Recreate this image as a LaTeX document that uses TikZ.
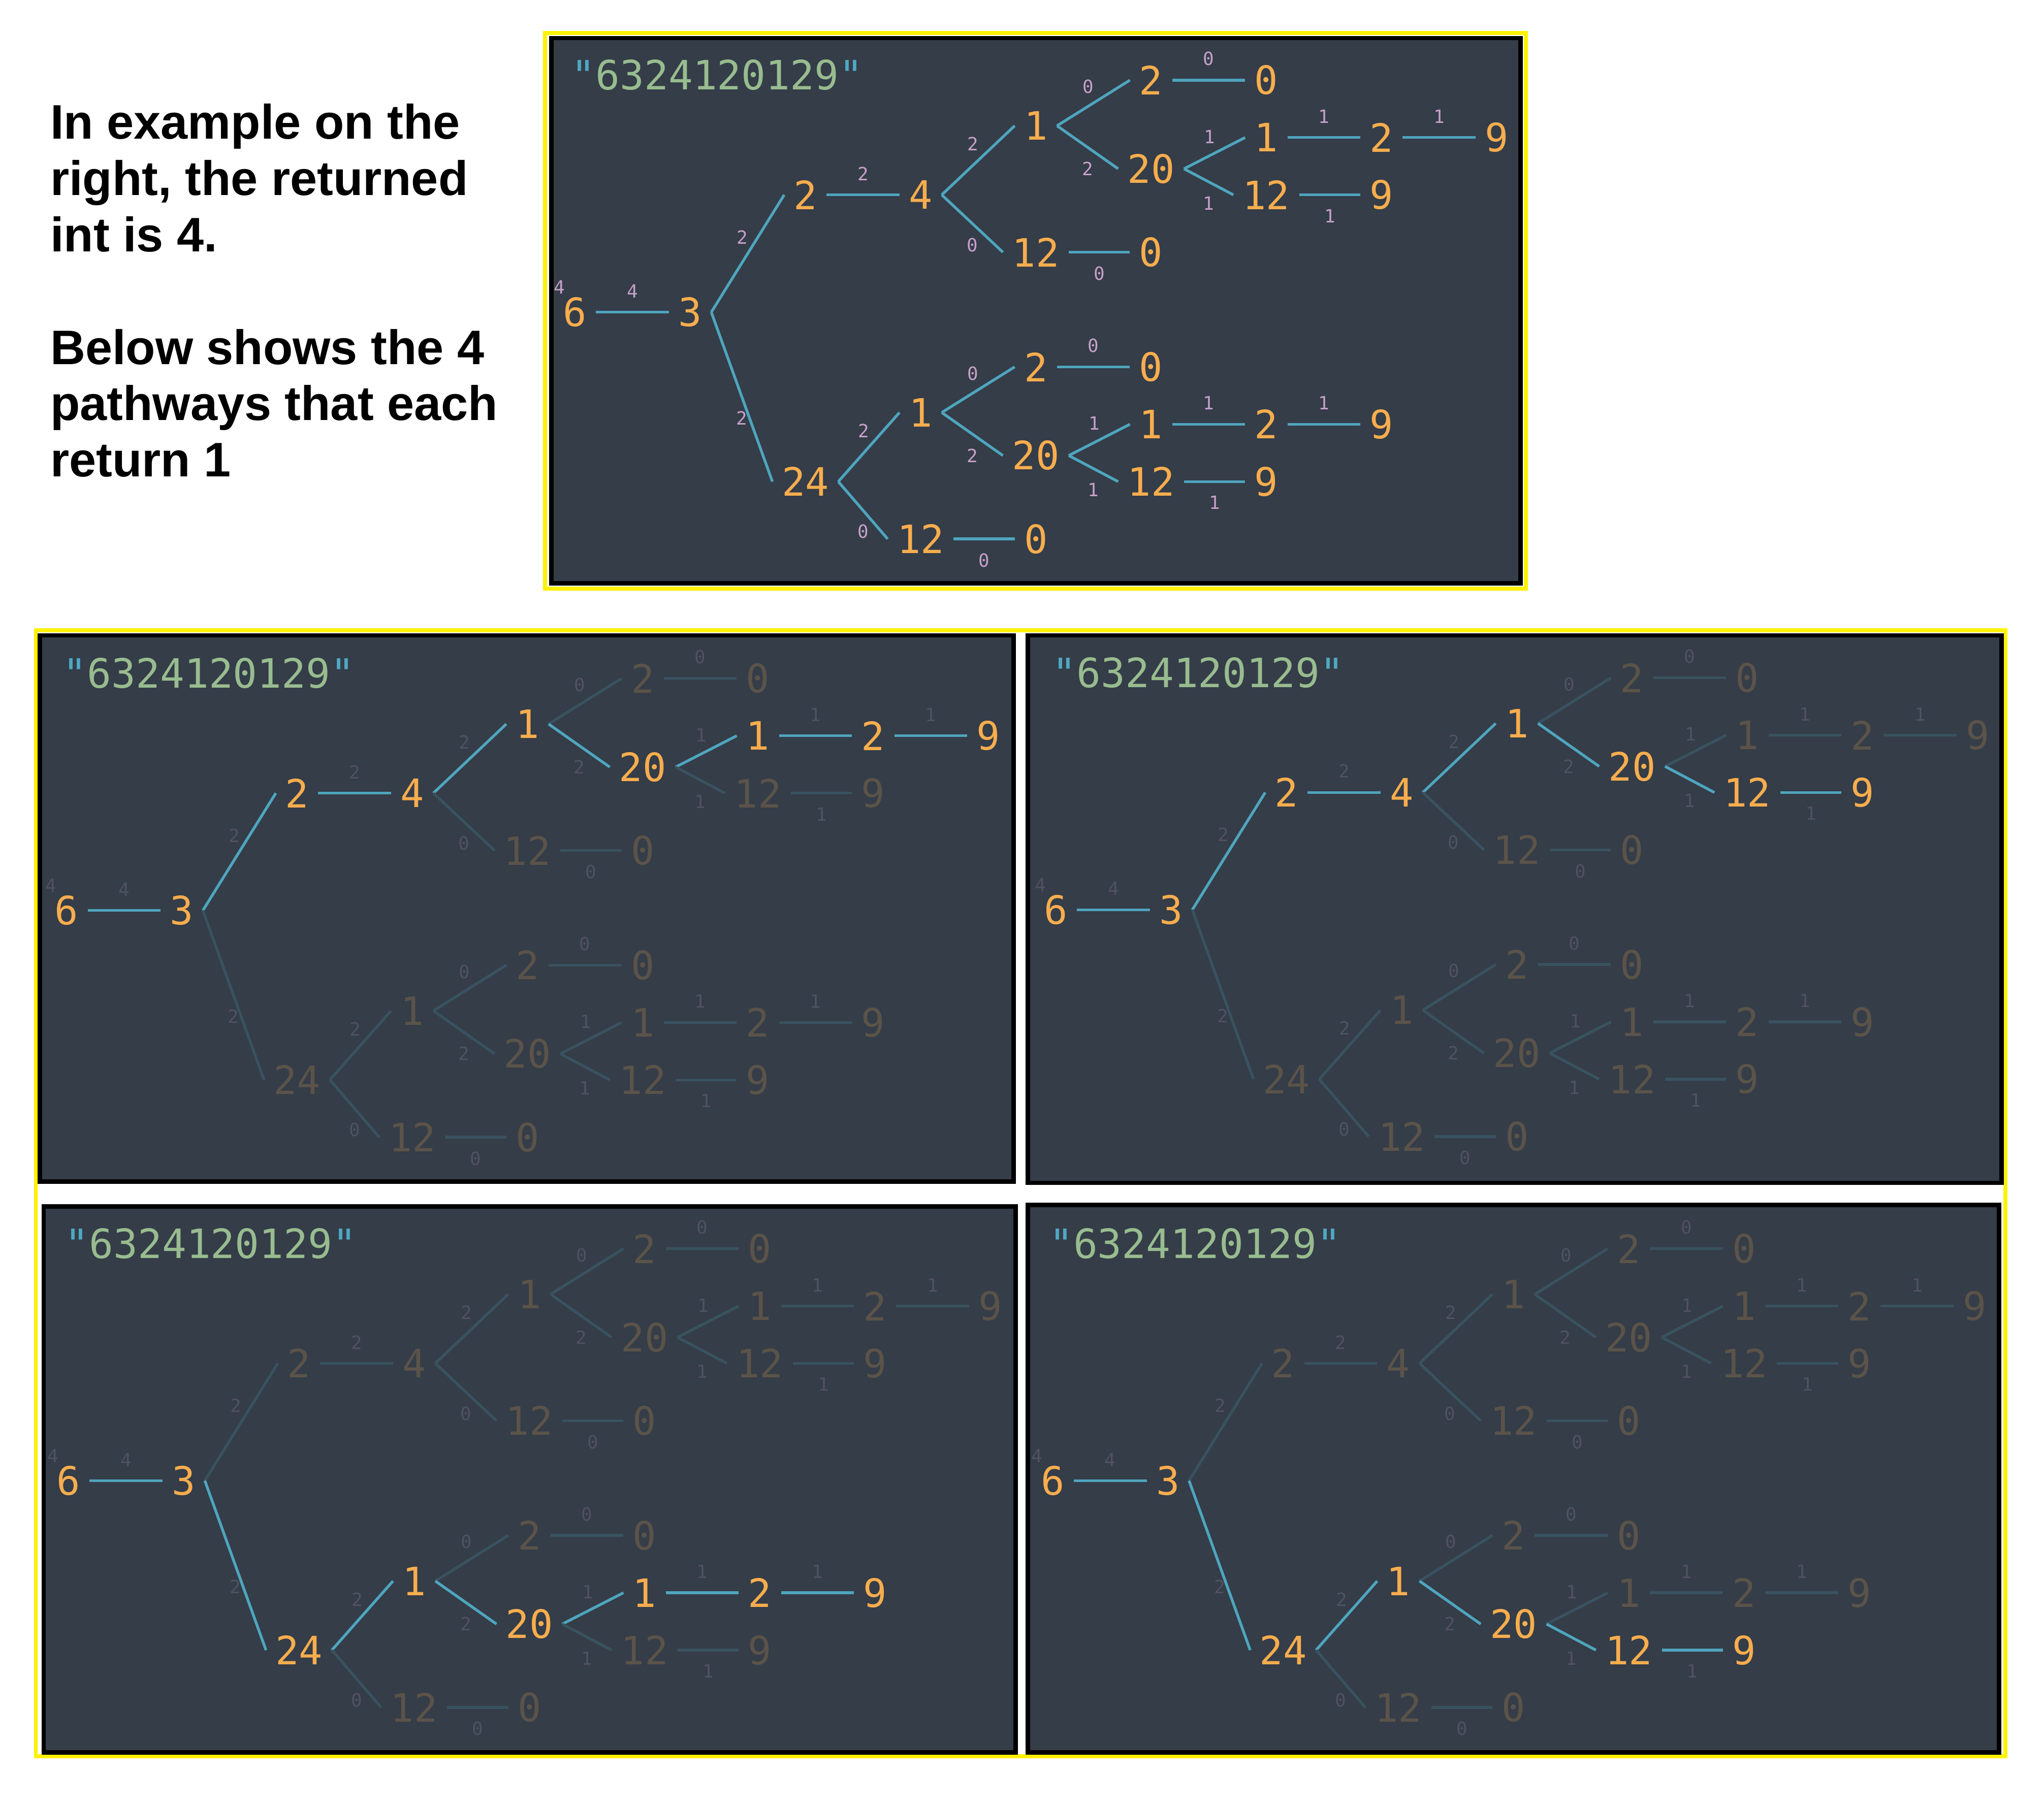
\documentclass[tikz,border=0pt]{standalone}
\usepackage{fontspec}
\newfontfamily\monofont{DejaVu Sans Mono}
\newfontfamily\headfont{Liberation Sans}
\definecolor{panelbg}{HTML}{343D48}
\definecolor{numc}{HTML}{F8AD4E}
\definecolor{linec}{HTML}{4FA5BE}
\definecolor{lblc}{HTML}{C7A0C9}
\definecolor{strc}{HTML}{98BC8F}
\definecolor{quotec}{HTML}{4FA8C2}
\definecolor{framec}{HTML}{FFF200}
\colorlet{numdim}{numc!20!panelbg}
\colorlet{linedim}{linec!20!panelbg}
\colorlet{lbldim}{lblc!20!panelbg}
\tikzset{
  num/.style={font=\monofont\fontsize{30}{30}\selectfont, text=numc, inner xsep=7pt, inner ysep=0pt},
  link/.style={draw=linec, line width=2.1pt},
  lbl/.style={font=\monofont\fontsize{14}{14}\selectfont, text=lblc, inner sep=0pt},
  lhu/.style={lbl, midway, above=10pt},
  lhd/.style={lbl, midway, below=10pt},
  lup/.style={lbl, midway, xshift=-4pt, yshift=12.6pt},
  ldn/.style={lbl, midway, yshift=-16.4pt},
  title/.style={font=\monofont\fontsize{31}{31}\selectfont, text=strc, inner sep=0pt},
  panel/.style={fill=panelbg, draw=black, line width=3.4pt},
  yframe/.style={draw=framec, line width=3pt},
  faded/.style={num/.append style={text=numdim}, link/.append style={draw=linedim}, lbl/.append style={text=lbldim}},
  lit/.style={sel-#1/.style={text=numc}, sel-#1-e/.style={draw=linec}}
}
% one branch: #1 its root, #2 prefix of its node names
\newcommand\branch[2]{%
  \node[num, sel-#2a/.try] (#2a) at ([shift={(88.4,-53)}]#1) {1};
  \node[num, sel-#2b/.try] (#2b) at ([shift={(88.4,44)}]#1) {12};
  \node[num, sel-#2c/.try] (#2c) at ([shift={(176.8,44)}]#1) {0};
  \node[num, sel-#2d/.try] (#2d) at ([shift={(176.8,-88)}]#1) {2};
  \node[num, sel-#2e/.try] (#2e) at ([shift={(265.2,-88)}]#1) {0};
  \node[num, sel-#2f/.try] (#2f) at ([shift={(176.8,-20)}]#1) {20};
  \node[num, sel-#2g/.try] (#2g) at ([shift={(265.2,-44)}]#1) {1};
  \node[num, sel-#2h/.try] (#2h) at ([shift={(353.6,-44)}]#1) {2};
  \node[num, sel-#2i/.try] (#2i) at ([shift={(442,-44)}]#1) {9};
  \node[num, sel-#2j/.try] (#2j) at ([shift={(265.2,0)}]#1) {12};
  \node[num, sel-#2k/.try] (#2k) at ([shift={(353.6,0)}]#1) {9};
  \draw[link, sel-#2a-e/.try] (#1.east) -- node[lup] {2} (#2a.west);
  \draw[link, sel-#2b-e/.try] (#1.east) -- node[ldn] {0} (#2b.west);
  \draw[link, sel-#2c-e/.try] (#2b.east) -- node[lhd] {0} (#2c.west);
  \draw[link, sel-#2d-e/.try] (#2a.east) -- node[lup] {0} (#2d.west);
  \draw[link, sel-#2e-e/.try] (#2d.east) -- node[lhu] {0} (#2e.west);
  \draw[link, sel-#2f-e/.try] (#2a.east) -- node[ldn] {2} (#2f.west);
  \draw[link, sel-#2g-e/.try] (#2f.east) -- node[lup] {1} (#2g.west);
  \draw[link, sel-#2h-e/.try] (#2g.east) -- node[lhu] {1} (#2h.west);
  \draw[link, sel-#2i-e/.try] (#2h.east) -- node[lhu] {1} (#2i.west);
  \draw[link, sel-#2j-e/.try] (#2f.east) -- node[ldn] {1} (#2j.west);
  \draw[link, sel-#2k-e/.try] (#2j.east) -- node[lhd] {1} (#2k.west);
}
% whole tree, origin at the first digit
\newcommand\tree{%
  \node[title, anchor=west] (ttl) at (-3,-182) {\textcolor{quotec}{"}6324120129\textcolor{quotec}{"}};
  \node[num, sel-r/.try] (r) at (0,0) {6};
  \node[lbl] (rl) at (-12,-19) {4};
  \node[num, sel-a/.try] (a) at (88.4,0) {3};
  \node[num, sel-b/.try] (b) at (176.8,-90) {2};
  \node[num, sel-c/.try] (c) at (265.2,-90) {4};
  \node[num, sel-p/.try] (p) at (176.8,130) {24};
  \draw[link, sel-a-e/.try] (r.east) -- node[lhu] {4} (a.west);
  \draw[link, sel-b-e/.try] (a.east) -- node[lup] {2} (b.west);
  \draw[link, sel-c-e/.try] (b.east) -- node[lhu] {2} (c.west);
  \draw[link, sel-p-e/.try] (a.east) -- node[ldn] {2} (p.west);
  \branch{c}{u}
  \branch{p}{l}
}
\begin{document}
\begin{tikzpicture}[x=1pt, y=-1pt]
\useasboundingbox (0,0) rectangle (1568,1384);
\fill[white] (0,0) rectangle (1568,1384);

\node[anchor=base west, align=left, inner sep=0pt,
  font=\headfont\bfseries\fontsize{37.2}{43.2}\selectfont] (intro) at (38.5,365.8)
  {In example on the\\right, the returned\\int is 4.\\[43.2pt]Below shows the 4\\pathways that each\\return 1};

% the example
\draw[yframe] (418,25.4) rectangle (1170.5,451.5);
\draw[panel] (423,29.2) rectangle (1166.5,447.5);
\begin{scope}[shift={(441,239.5)}]
  \tree
\end{scope}

% the four pathways
\draw[yframe] (27.5,483.5) rectangle (1538.5,1347.5);
\draw[panel] (30.5,487.5) rectangle (777.5,906.5);
\draw[panel] (788.5,487.5) rectangle (1535.5,907.5);
\draw[panel] (33.5,925.5) rectangle (779,1344.5);
\draw[panel] (788.5,924.5) rectangle (1533.5,1344.5);
\begin{scope}[shift={(51,698.5)}, name prefix=tl-, faded, lit/.list={r,a,b,c,ua,uf,ug,uh,ui}]
  \tree
\end{scope}
\begin{scope}[shift={(810,698)}, name prefix=tr-, faded, lit/.list={r,a,b,c,ua,uf,uj,uk}]
  \tree
\end{scope}
\begin{scope}[shift={(52.5,1136)}, name prefix=bl-, faded, lit/.list={r,a,p,la,lf,lg,lh,li}]
  \tree
\end{scope}
\begin{scope}[shift={(807.5,1136)}, name prefix=br-, faded, lit/.list={r,a,p,la,lf,lj,lk}]
  \tree
\end{scope}
\end{tikzpicture}
\end{document}
